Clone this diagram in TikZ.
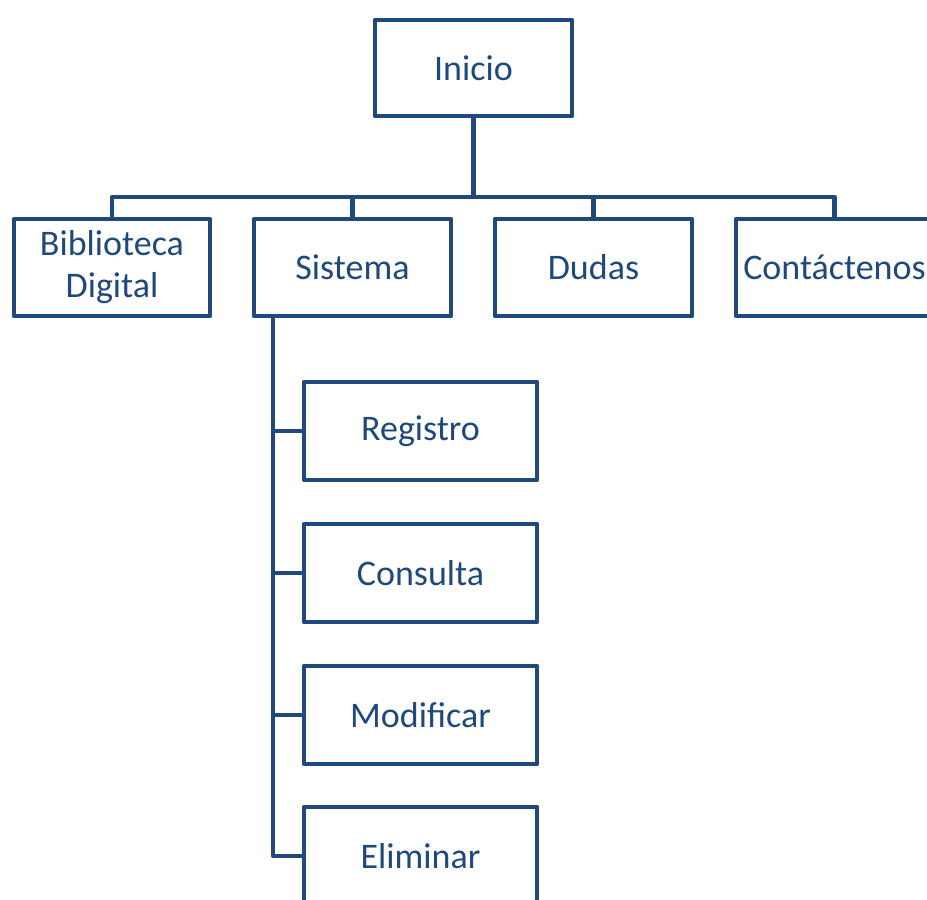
\documentclass[tikz,border=0pt]{standalone}
\usepackage{fontspec}
\setmainfont{Carlito}
\definecolor{navy}{HTML}{1F497D}
\begin{document}
\begin{tikzpicture}[x=1pt,y=-1pt,
  box/.style={draw=navy, line width=4.5pt, rectangle, text=navy, align=center,
    font=\fontsize{36}{42}\selectfont, inner sep=0pt, outer sep=0pt, line join=round},
  conn/.style={draw=navy, line width=4.5pt, line join=round}]
\useasboundingbox[fill=white] (0,0) rectangle (927,900);
\node[box, minimum width=197pt, minimum height=96pt] (inicio) at (473.5,68) {Inicio};
\node[box, minimum width=196pt, minimum height=97pt] (bib) at (112,267.5) {Biblioteca\\Digital};
\node[box, minimum width=197pt, minimum height=97pt] (sis) at (352.5,267.5) {Sistema};
\node[box, minimum width=197pt, minimum height=97pt] (dud) at (593.5,267.5) {Dudas};
\node[box, minimum width=197pt, minimum height=97pt] (con) at (834.5,267.5) {Contáctenos};
\node[box, minimum width=233pt, minimum height=98pt] (reg) at (420.5,431) {Registro};
\node[box, minimum width=233pt, minimum height=98pt] (cons) at (420.5,573) {Consulta};
\node[box, minimum width=233pt, minimum height=98pt] (mod) at (420.5,715) {Modificar};
\node[box, minimum width=233pt, minimum height=98pt] (eli) at (420.5,856) {Eliminar};
\coordinate (bus) at (473.5,197);
\coordinate (spine) at (273,316);
\draw[conn] (inicio.south) -- (bus);
\draw[conn] (bib.north) |- (bus) -| (con.north);
\draw[conn] (sis.north) -- (sis.north |- bus);
\draw[conn] (dud.north) -- (dud.north |- bus);
\draw[conn] (spine) |- (reg.west);
\draw[conn] (spine) |- (cons.west);
\draw[conn] (spine) |- (mod.west);
\draw[conn] (spine) |- (eli.west);
\end{tikzpicture}
\end{document}
